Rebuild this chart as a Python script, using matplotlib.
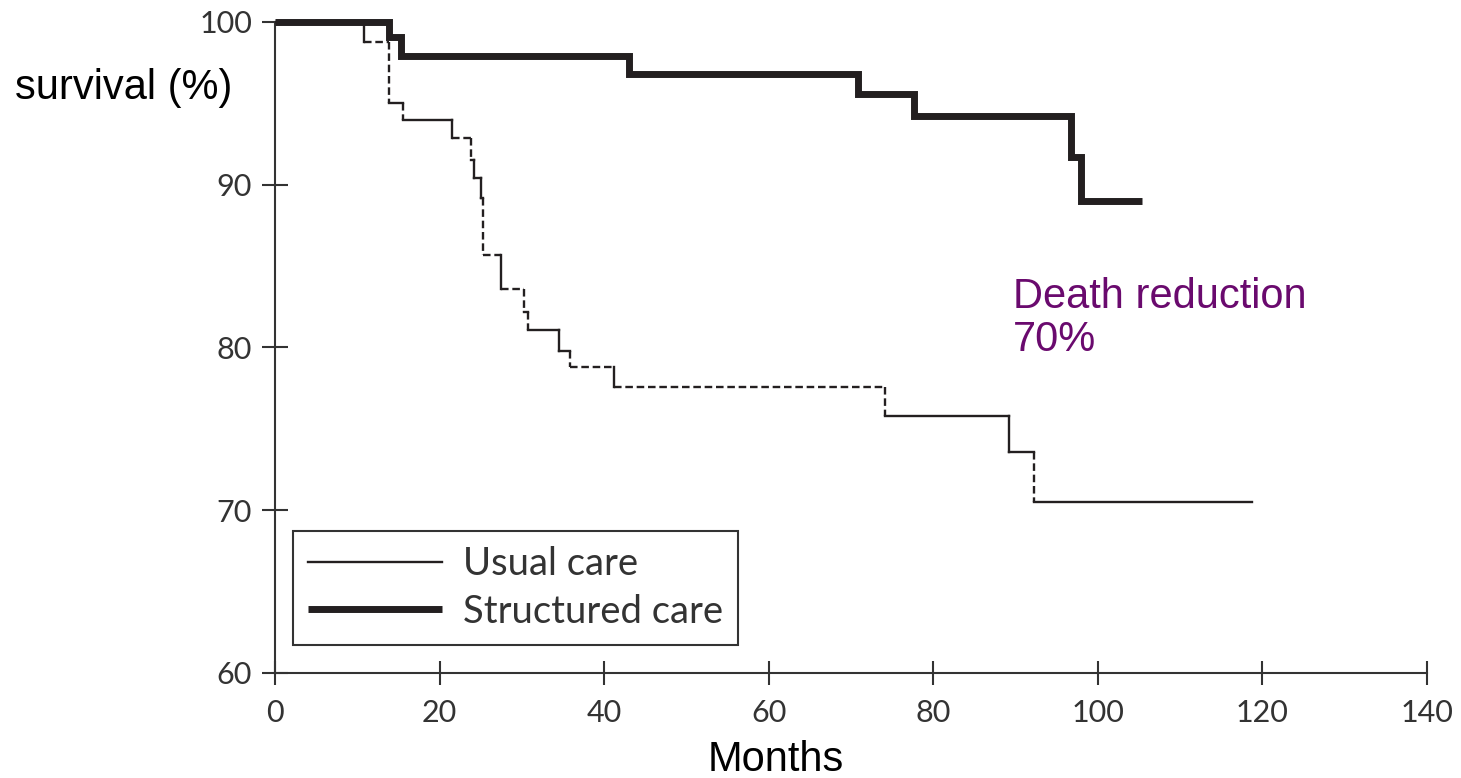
import numpy as np
import matplotlib
matplotlib.use("Agg")
import matplotlib.pyplot as plt
from matplotlib.lines import Line2D

# Kaplan-Meier steps: event times (months) and survival (%) after each step
usual_t = [0, 10.8, 13.8, 15.5, 21.5, 23.8, 24.2, 25.0, 25.3, 27.5, 30.3, 30.8,
           34.5, 35.8, 41.2, 74.1, 89.2, 92.3]
usual_s = [100, 98.8, 95.0, 94.0, 92.9, 91.5, 90.4, 89.2, 85.7, 83.6, 82.2, 81.1,
           79.8, 78.8, 77.6, 75.8, 73.6, 70.5]
usual_end = 118.7

struct_t = [0, 13.8, 15.3, 43.0, 70.9, 77.6, 96.7, 98.0]
struct_s = [100, 99.1, 97.9, 96.8, 95.6, 94.2, 91.7, 89.0]
struct_end = 105.4

xticks = [0, 20, 40, 60, 80, 100, 120, 140]
yticks = [60, 70, 80, 90, 100]

# segments of the thin curve that print broken (index along the step path)
usual_dashed = {0, 2, 3, 5, 8, 9, 15, 16, 18, 19, 21, 25, 26, 28, 29, 33}

INK = "#231f20"
AXIS = "#333333"
PURPLE = "#6a0a6e"


def step_xy(t, s, t_end):
    x = np.repeat(np.append(t, t_end), 2)[1:-1]
    y = np.repeat(s, 2)
    return x, y


fig = plt.figure(figsize=(14.61, 7.78), dpi=100)
ax = fig.add_axes([275 / 1461, 1 - 673 / 778, (1427 - 275) / 1461, (673 - 22) / 778])

# usual care: thin line, drawn segment by segment
ux, uy = step_xy(usual_t, usual_s, usual_end)
for k in range(len(ux) - 1):
    ls = (0, (3.2, 1.6)) if k in usual_dashed else "-"
    ax.plot(ux[k:k + 2], uy[k:k + 2], color=INK, lw=1.7, ls=ls,
            solid_capstyle="projecting", dash_capstyle="butt", clip_on=False, zorder=3)

# structured care: heavy line
sx, sy = step_xy(struct_t, struct_s, struct_end)
ax.plot(sx, sy, color=INK, lw=5.0, solid_joinstyle="miter",
        solid_capstyle="butt", clip_on=False, zorder=4)

ax.set_xlim(0, 140)
ax.set_ylim(60, 100)
ax.set_xticks(xticks)
ax.set_yticks(yticks)
for side in ["top", "right"]:
    ax.spines[side].set_visible(False)
for side in ["left", "bottom"]:
    ax.spines[side].set_linewidth(1.5)
    ax.spines[side].set_color(AXIS)

tick_font = {"family": "Lato", "size": 22, "color": AXIS}
ax.set_xticklabels([str(v) for v in xticks], **tick_font)
ax.set_yticklabels([str(v) for v in yticks], **tick_font)
ax.tick_params(axis="y", direction="inout", length=19, width=1.5, color=AXIS, pad=7)
ax.tick_params(axis="x", direction="inout", length=17, width=1.5, color=AXIS, pad=10)

handles = [Line2D([], [], color=INK, lw=1.7),
           Line2D([], [], color=INK, lw=5.0, solid_capstyle="butt")]
leg = ax.legend(handles, ["Usual care", "Structured care"], loc="upper left",
                bbox_to_anchor=(18 / 1152, 1 - (531 - 22) / 651),
                prop={"family": "Lato", "size": 27.5}, fancybox=False,
                edgecolor=AXIS, framealpha=1, handlelength=3.5,
                handletextpad=0.55, borderpad=0.4, labelspacing=0.3,
                borderaxespad=0)
leg.get_frame().set_linewidth(1.5)
for txt in leg.get_texts():
    txt.set_color(AXIS)

ax.text(89.7, 81.8, "Death reduction\n70%", color=PURPLE, fontsize=30,
        family="Liberation Sans", va="center", ha="left", linespacing=1.1)

fig.text(15 / 1461, 1 - 88 / 778, "survival (%)", fontsize=30,
         family="Liberation Sans", va="center", ha="left", color="black")
fig.text(776 / 1461, 1 - 760 / 778, "Months", fontsize=30,
         family="Liberation Sans", va="center", ha="center", color="black")

fig.savefig("out.png", dpi=100)
